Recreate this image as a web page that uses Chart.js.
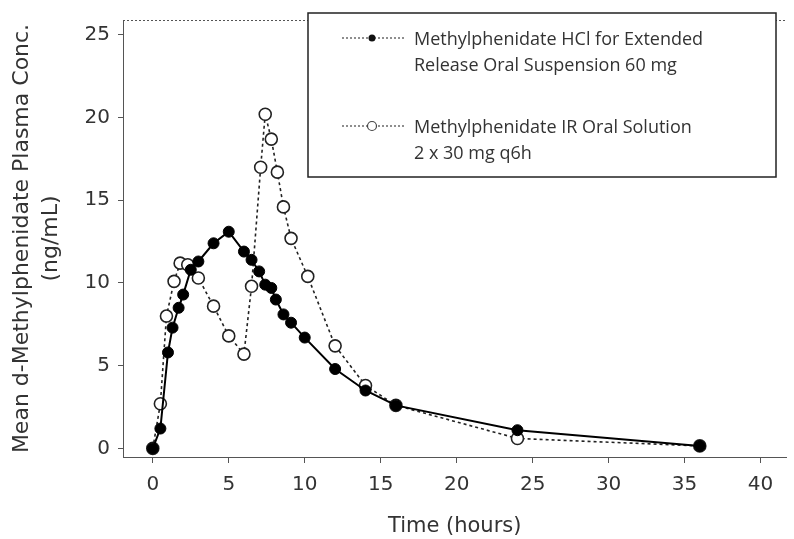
<!DOCTYPE html>
<html>
<head>
<meta charset="utf-8">
<script src="https://cdn.jsdelivr.net/npm/chart.js@4.4.1/dist/chart.umd.min.js"></script>
<style>
    html, body { margin: 0; padding: 0; background: #fff; }
    #wrap { width: 794px; height: 539px; }
</style>
</head>
<body>
<div id="wrap"><canvas id="pk" width="794" height="539"></canvas></div>
<script>
// Methylphenidate HCl ER oral suspension 60 mg
var erTime = [0, 0.5, 1, 1.3, 1.7, 2, 2.5, 3, 4, 5, 6, 6.5, 7, 7.4, 7.8, 8.1, 8.6, 9.1, 10, 12, 14, 16, 24, 36];
var erConc = [0, 1.2, 5.8, 7.3, 8.5, 9.3, 10.8, 11.3, 12.4, 13.1, 11.9, 11.4, 10.7, 9.9, 9.7, 9.0, 8.1, 7.6, 6.7, 4.8, 3.5, 2.6, 1.1, 0.15];
// Methylphenidate IR oral solution 2 x 30 mg q6h
var irTime = [0, 0.5, 0.9, 1.4, 1.8, 2.3, 3, 4, 5, 6, 6.5, 7.1, 7.4, 7.8, 8.2, 8.6, 9.1, 10.2, 12, 14, 16, 24, 36];
var irConc = [0, 2.7, 8.0, 10.1, 11.2, 11.1, 10.3, 8.6, 6.8, 5.7, 9.8, 17.0, 20.2, 18.7, 16.7, 14.6, 12.7, 10.4, 6.2, 3.8, 2.6, 0.6, 0.15];

var xTicks = [0, 5, 10, 15, 20, 25, 30, 35, 40];
var yTicks = [0, 5, 10, 15, 20, 25];

var legendLines = [
    ['Methylphenidate HCl for Extended', 'Release Oral Suspension 60 mg'],
    ['Methylphenidate IR Oral Solution', '2 x 30 mg q6h']
];

function toPoints(xs, ys) {
    return xs.map(function (x, i) { return { x: x, y: ys[i] }; });
}

var ink = '#333';

// dotted top edge of the plot frame + boxed legend
var framePlugin = {
    id: 'frame',
    afterDraw: function (chart) {
        var ctx = chart.ctx, a = chart.chartArea;
        ctx.save();
        ctx.strokeStyle = '#555';
        ctx.lineWidth = 1;
        ctx.setLineDash([2, 2]);
        ctx.beginPath();
        ctx.moveTo(a.left, a.top + 0.5);
        ctx.lineTo(a.right, a.top + 0.5);
        ctx.stroke();

        // legend box
        var bx = 308, by = 13, bw = 468, bh = 164;
        ctx.setLineDash([]);
        ctx.fillStyle = '#fff';
        ctx.fillRect(bx, by, bw, bh);
        ctx.strokeStyle = '#222';
        ctx.lineWidth = 1.5;
        ctx.strokeRect(bx, by, bw, bh);

        var rows = [38, 126];
        ctx.font = '18px "Open Sans"';
        ctx.textBaseline = 'middle';
        ctx.textAlign = 'left';
        for (var i = 0; i < 2; i++) {
            var y = rows[i];
            ctx.strokeStyle = '#444';
            ctx.lineWidth = 1.2;
            ctx.setLineDash([2, 2]);
            ctx.beginPath();
            ctx.moveTo(342, y);
            ctx.lineTo(406, y);
            ctx.stroke();
            ctx.setLineDash([]);
            ctx.beginPath();
            ctx.arc(372, y, i === 0 ? 3.5 : 4.5, 0, Math.PI * 2);
            if (i === 0) {
                ctx.fillStyle = '#111';
                ctx.fill();
            } else {
                ctx.fillStyle = '#fff';
                ctx.fill();
                ctx.strokeStyle = '#444';
                ctx.stroke();
            }
            ctx.fillStyle = ink;
            ctx.fillText(legendLines[i][0], 414, y + 2);
            ctx.fillText(legendLines[i][1], 414, y + 28);
        }
        ctx.restore();
    }
};

var pk = document.getElementById('pk').getContext('2d');
var myChart = new Chart(pk, {
    type: 'line',
    data: {
        datasets: [{
            label: legendLines[0].join(' '),
            data: toPoints(erTime, erConc),
            borderColor: '#000',
            borderWidth: 2,
            pointStyle: 'circle',
            pointRadius: 5.5,
            pointBorderWidth: 1,
            pointBorderColor: '#000',
            pointBackgroundColor: '#000',
            tension: 0
        }, {
            label: legendLines[1].join(' '),
            data: toPoints(irTime, irConc),
            borderColor: '#222',
            borderWidth: 1.6,
            borderDash: [3, 3],
            pointStyle: 'circle',
            pointRadius: 6,
            pointBorderWidth: 1.6,
            pointBorderColor: '#222',
            pointBackgroundColor: '#fff',
            tension: 0
        }]
    },
    options: {
        responsive: false,
        animation: false,
        layout: { padding: { top: 14, right: 3, left: 0, bottom: 0 } },
        plugins: {
            legend: { display: false },
            tooltip: { enabled: false }
        },
        scales: {
            x: {
                type: 'linear',
                min: -1.96,
                max: 41.7,
                afterBuildTicks: function (s) {
                    s.ticks = xTicks.map(function (v) { return { value: v }; });
                },
                afterFit: function (s) { s.height = 82; },
                grid: { display: true, drawOnChartArea: false, drawTicks: true, tickLength: 6, color: '#555' },
                border: { display: true, color: '#555', dash: [2, 2], width: 1 },
                ticks: {
                    color: ink,
                    padding: 10,
                    maxRotation: 0,
                    font: { family: 'DejaVu Sans', size: 20 }
                },
                title: {
                    display: true,
                    text: 'Time (hours)',
                    color: ink,
                    padding: { top: 4, bottom: 0 },
                    font: { family: 'DejaVu Sans', size: 21 }
                }
            },
            y: {
                min: -0.52,
                max: 25.9,
                afterBuildTicks: function (s) {
                    s.ticks = yTicks.map(function (v) { return { value: v }; });
                },
                afterFit: function (s) { s.width = 123; },
                grid: { display: true, drawOnChartArea: false, drawTicks: true, tickLength: 5, color: '#555' },
                border: { display: true, color: '#555', dash: [2, 2], width: 1 },
                ticks: {
                    color: ink,
                    padding: 8,
                    font: { family: 'DejaVu Sans', size: 20 }
                },
                title: {
                    display: true,
                    text: ['Mean d-Methylphenidate Plasma Conc.', '(ng/mL)'],
                    color: ink,
                    padding: { top: 8, bottom: 0 },
                    font: { family: 'DejaVu Sans', size: 22, lineHeight: 1.3 }
                }
            }
        }
    },
    plugins: [framePlugin]
});
</script>
</body>
</html>
